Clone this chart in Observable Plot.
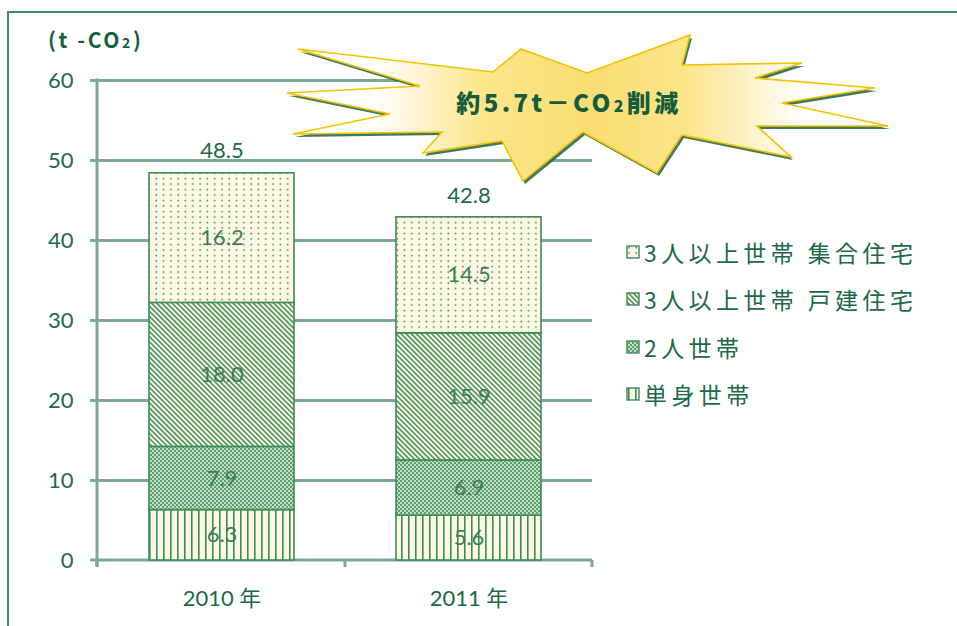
<!DOCTYPE html>
<html>
<head>
<meta charset="utf-8">
<script src="https://cdn.jsdelivr.net/npm/d3@7"></script>
<script src="https://cdn.jsdelivr.net/npm/@observablehq/plot@0.6"></script>
<style>
  html, body { margin: 0; padding: 0; background: #fff; }
  #wrap { position: relative; width: 957px; height: 626px; overflow: hidden; background: #fff;
    font-family: Lato, "Noto Sans CJK JP", sans-serif; color: #1d6a48; }
  #frame { position: absolute; left: 7px; top: 11px; width: 1200px; height: 900px;
    border-left: 2.5px solid #3f8a6a; border-top: 2.5px solid #3f8a6a; }
  #chart { position: absolute; left: 0; top: 0; }
  #units { position: absolute; left: 48px; top: 24px; font-family: "Noto Sans CJK JP", sans-serif;
    font-weight: 700; font-size: 21px; color: #165e3e; letter-spacing: 2.6px; }
  #units sub { font-size: 14px; vertical-align: 0; }
  #legend { position: absolute; left: 626px; top: 228px; font-family: "Noto Sans CJK JP", sans-serif;
    font-size: 23px; color: #1d6a48; letter-spacing: 4.4px; }
  .li { height: 47.5px; display: flex; align-items: center; white-space: pre; }
  .li svg { margin-right: 4px; flex: none; }
  #burst { position: absolute; left: 0; top: 0; }
</style>
</head>
<body>
<div id="wrap">
  <div id="frame"></div>
  <svg width="0" height="0" style="position:absolute">
    <defs>
      <pattern id="p-dots" width="7.3" height="5.5" patternUnits="userSpaceOnUse">
        <rect width="7.3" height="5.5" fill="#fdf8e3"/>
        <circle cx="3" cy="2.5" r="0.9" fill="#3d8a5a"/>
      </pattern>
      <pattern id="p-diag" width="3.6" height="3.6" patternUnits="userSpaceOnUse" patternTransform="rotate(-45)">
        <rect width="3.6" height="3.6" fill="#fdf8e3"/>
        <rect width="1.5" height="3.6" fill="#3d8a5a"/>
      </pattern>
      <pattern id="p-check" width="4" height="4" patternUnits="userSpaceOnUse">
        <rect width="4" height="4" fill="#c4dfbf"/>
        <rect width="2" height="2" fill="#5c9e73"/>
        <rect x="2" y="2" width="2" height="2" fill="#5c9e73"/>
      </pattern>
      <pattern id="p-vert" width="7" height="7" patternUnits="userSpaceOnUse">
        <rect width="7" height="7" fill="#fdf8e3"/>
        <rect x="2" width="1.6" height="7" fill="#3d8a5a"/>
      </pattern>
    </defs>
  </svg>
  <div id="chart"></div>
  <div id="units">(t -CO<sub>2</sub>)</div>
  <div id="legend"></div>
  <svg id="burst" width="957" height="626"></svg>
</div>
<script>
// ---- data ----
const years = ["2010 年", "2011 年"];
const series = ["単身世帯", "2人世帯", "3人以上世帯 戸建住宅", "3人以上世帯 集合住宅"];
const values2010 = [6.3, 7.9, 18.0, 16.2];
const values2011 = [5.6, 6.9, 15.9, 14.5];
const totals = [48.5, 42.8];
const yTicks = [0, 10, 20, 30, 40, 50, 60];
const patterns = ["url(#p-vert)", "url(#p-check)", "url(#p-diag)", "url(#p-dots)"];
const burstText = "約5.7t－CO";
const burstText2 = "削減";

// ---- styles ----
const textColor = "#1d6a48";
const labelColor = "#3b7f5a";
const gridColor = "#7aa994";
const barStroke = "#3d8a5a";

const rows = [];
[values2010, values2011].forEach((vals, i) => {
  vals.forEach((v, j) => rows.push({year: years[i], series: series[j], value: v}));
});
const totalRows = years.map((y, i) => ({year: y, total: totals[i]}));

function axisLines(...args) {
  const scales = args.find(a => a && typeof a.x === "function" && typeof a.y === "function");
  const dims = args.find(a => a && typeof a.width === "number" && "marginLeft" in a);
  const g = d3.create("svg:g").attr("stroke", gridColor).attr("stroke-width", 3).attr("fill", "none");
  const xL = dims.marginLeft, xR = dims.width - dims.marginRight;
  const y0 = scales.y(0), yT = scales.y(60);
  const bw = scales.x.bandwidth();
  const centers = years.map(d => scales.x(d) + bw / 2);
  const bounds = [xL];
  for (let i = 1; i < centers.length; i++) bounds.push((centers[i - 1] + centers[i]) / 2);
  bounds.push(xR);
  g.append("line").attr("x1", xL).attr("x2", xL).attr("y1", yT - 1.5).attr("y2", y0 + 7);
  g.append("line").attr("x1", xL - 7).attr("x2", xR).attr("y1", y0).attr("y2", y0);
  bounds.forEach(b => g.append("line").attr("x1", b).attr("x2", b).attr("y1", y0).attr("y2", y0 + 7));
  return g.node();
}

const chart = Plot.plot({
  width: 957,
  height: 626,
  marginTop: 80,
  marginBottom: 66,
  marginLeft: 97,
  marginRight: 365,
  style: {fontFamily: "Lato, 'Noto Sans CJK JP', sans-serif", fontSize: "22px", color: textColor, background: "transparent"},
  x: {domain: years, paddingInner: 0.413, paddingOuter: 0.206},
  y: {domain: [0, 60]},
  color: {domain: series, range: patterns},
  marks: [
    Plot.ruleY(yTicks.filter(d => d > 0), {stroke: gridColor, strokeWidth: 3, insetLeft: -7}),
    Plot.axisY({ticks: yTicks, tickSize: 0, tickPadding: 24, label: null, fontSize: 22, fill: textColor}),
    Plot.axisX({tickSize: 0, tickPadding: 30, label: null, fontSize: 22, fill: textColor,
      fontFamily: "'Liberation Sans Narrow', Lato, 'Noto Sans CJK JP', sans-serif"}),
    axisLines,
    Plot.barY(rows, {x: "year", y: "value", fill: "series", order: series, stroke: barStroke, strokeWidth: 1.6}),
    Plot.text(rows, Plot.stackY({x: "year", y: "value", z: "series", order: series,
      text: d => d.value.toFixed(1), fill: labelColor, fontSize: 22})),
    Plot.text(totalRows, {x: "year", y: "total", text: d => d.total.toFixed(1), lineAnchor: "bottom", dy: -15,
      fill: textColor, fontSize: 22})
  ]
});
document.getElementById("chart").appendChild(chart);

// ---- legend ----
const legend = d3.select("#legend");
series.slice().reverse().forEach((s, k) => {
  const idx = series.indexOf(s);
  const row = legend.append("div").attr("class", "li");
  const sw = row.append("svg").attr("width", 14).attr("height", 14);
  sw.append("rect").attr("x", 1).attr("y", 1).attr("width", 12).attr("height", 12)
    .attr("fill", patterns[idx]).attr("stroke", barStroke).attr("stroke-width", 1.4);
  row.append("span").text(s);
});

// ---- starburst annotation ----
const burstPts = [[298,49],[493,72],[521,49],[587,73],[690,35],[682,65],[802,63],[755,78],[875,88],[782,103],
  [888,126],[757,126],[791,157],[682,135],[657,173],[583,132],[523,181],[502,141],[423,153],[442,132],
  [293,134],[390,114],[287,93],[420,86]];
const bsvg = d3.select("#burst");
const defs = bsvg.append("defs");
const grad = defs.append("linearGradient").attr("id", "bgrad").attr("gradientUnits", "userSpaceOnUse")
  .attr("x1", 290).attr("x2", 890).attr("y1", 0).attr("y2", 0);
[[0, "#ffffff"], [0.14, "#ffffff"], [0.32, "#fce58c"], [0.5, "#fadd72"], [0.66, "#fce48a"], [0.86, "#ffffff"], [1, "#ffffff"]]
  .forEach(([o, c]) => grad.append("stop").attr("offset", o).attr("stop-color", c));
const ptsStr = burstPts.map(p => p.join(",")).join(" ");
bsvg.append("polygon").attr("points", ptsStr).attr("fill", "#2a6a4c").attr("transform", "translate(2,3)").attr("opacity", 0.9);
bsvg.append("polygon").attr("points", ptsStr).attr("fill", "url(#bgrad)").attr("stroke", "#f3c300").attr("stroke-width", 1.6);
const bt = bsvg.append("text").attr("x", 569).attr("y", 112).attr("text-anchor", "middle")
  .attr("font-family", "'Noto Sans CJK JP', sans-serif").attr("font-weight", 900).attr("font-size", 24)
  .attr("fill", "#155c3c").attr("letter-spacing", 3.4);
bt.append("tspan").text(burstText);
bt.append("tspan").attr("font-size", 16).text("2");
bt.append("tspan").text(burstText2);
</script>
</body>
</html>
